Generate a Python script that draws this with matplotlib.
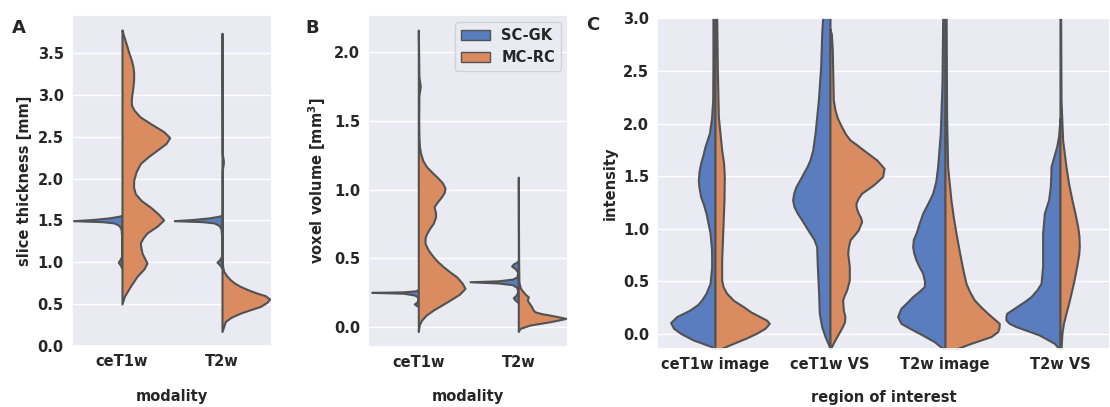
import matplotlib
matplotlib.use("Agg")
import matplotlib.pyplot as plt
import matplotlib.patches as mpatches
import seaborn as sns

# ---- data: half-violin density profiles as (value, density) pairs ----
# left half = SC-GK, right half = MC-RC

hues = ["SC-GK", "MC-RC"]

# A: slice thickness [mm]
a_categories = ["ceT1w", "T2w"]
a_scgk_cet1w = [(0.93, 0.0), (0.97, 0.02), (1.0, 0.037), (1.03, 0.02), (1.07, 0.004), (1.30, 0.003),
                (1.40, 0.01), (1.44, 0.03), (1.47, 0.08), (1.485, 0.2), (1.497, 0.485), (1.51, 0.3),
                (1.53, 0.13), (1.55, 0.03), (1.56, 0.0)]
a_mcrc_cet1w = [(0.50, 0.0), (0.59, 0.023), (0.71, 0.083), (0.83, 0.15), (0.92, 0.22), (0.99, 0.25),
                (1.06, 0.22), (1.11, 0.2), (1.17, 0.19), (1.23, 0.183), (1.29, 0.21), (1.35, 0.25),
                (1.43, 0.35), (1.505, 0.417), (1.58, 0.36), (1.66, 0.283), (1.74, 0.19), (1.82, 0.133),
                (1.90, 0.115), (1.98, 0.117), (2.08, 0.14), (2.18, 0.183), (2.26, 0.26), (2.34, 0.35),
                (2.42, 0.44), (2.49, 0.477), (2.56, 0.42), (2.66, 0.283), (2.74, 0.18), (2.82, 0.12),
                (2.88, 0.095), (2.94, 0.093), (3.0, 0.098), (3.08, 0.108), (3.18, 0.116), (3.26, 0.117),
                (3.34, 0.11), (3.42, 0.093), (3.50, 0.07), (3.58, 0.05), (3.65, 0.032), (3.72, 0.014),
                (3.78, 0.0)]
a_scgk_t2w = [(0.93, 0.0), (0.97, 0.025), (1.0, 0.05), (1.03, 0.025), (1.07, 0.004), (1.30, 0.003),
              (1.40, 0.01), (1.44, 0.03), (1.47, 0.08), (1.485, 0.2), (1.497, 0.477), (1.51, 0.3),
              (1.53, 0.13), (1.55, 0.03), (1.565, 0.0)]
a_mcrc_t2w = [(0.17, 0.0), (0.29, 0.033), (0.34, 0.09), (0.39, 0.183), (0.43, 0.28), (0.47, 0.383),
              (0.52, 0.45), (0.56, 0.477), (0.60, 0.43), (0.63, 0.35), (0.67, 0.26), (0.71, 0.183),
              (0.75, 0.125), (0.79, 0.083), (0.84, 0.045), (0.89, 0.017), (0.95, 0.006), (1.10, 0.003),
              (2.10, 0.003), (2.20, 0.015), (2.30, 0.003), (3.74, 0.0)]

# B: voxel volume [mm^3]
b_categories = ["ceT1w", "T2w"]
b_scgk_cet1w = [(0.15, 0.0), (0.17, 0.04), (0.19, 0.005), (0.22, 0.004), (0.235, 0.04), (0.248, 0.15),
                (0.254, 0.466), (0.258, 0.15), (0.265, 0.03), (0.275, 0.0)]
b_mcrc_cet1w = [(-0.03, 0.0), (0.02, 0.01), (0.053, 0.033), (0.09, 0.08), (0.126, 0.15), (0.16, 0.23),
                (0.198, 0.317), (0.24, 0.41), (0.283, 0.467), (0.32, 0.44), (0.367, 0.383), (0.40, 0.32),
                (0.44, 0.25), (0.48, 0.19), (0.512, 0.15), (0.56, 0.1), (0.61, 0.067), (0.65, 0.068),
                (0.68, 0.083), (0.72, 0.115), (0.755, 0.15), (0.80, 0.172), (0.83, 0.173), (0.875, 0.157),
                (0.91, 0.19), (0.948, 0.233), (0.98, 0.26), (1.01, 0.267), (1.05, 0.24), (1.093, 0.183),
                (1.13, 0.13), (1.165, 0.083), (1.21, 0.045), (1.263, 0.023), (1.31, 0.012), (1.36, 0.007),
                (1.50, 0.004), (1.68, 0.006), (1.75, 0.02), (1.82, 0.006), (2.0, 0.003), (2.157, 0.0)]
b_scgk_t2w = [(0.18, 0.0), (0.20, 0.035), (0.215, 0.05), (0.235, 0.02), (0.26, 0.006), (0.29, 0.015),
              (0.31, 0.06), (0.322, 0.2), (0.331, 0.483), (0.338, 0.2), (0.35, 0.06), (0.365, 0.015),
              (0.40, 0.005), (0.425, 0.03), (0.445, 0.067), (0.46, 0.05), (0.475, 0.01), (0.485, 0.0)]
b_mcrc_t2w = [(-0.03, 0.0), (-0.007, 0.017), (0.017, 0.117), (0.041, 0.317), (0.065, 0.477), (0.077, 0.4),
              (0.089, 0.317), (0.10, 0.23), (0.113, 0.167), (0.13, 0.145), (0.15, 0.133), (0.17, 0.115),
              (0.185, 0.1), (0.198, 0.09), (0.222, 0.1), (0.24, 0.07), (0.258, 0.05), (0.275, 0.03),
              (0.294, 0.017), (0.33, 0.006), (0.50, 0.003), (1.09, 0.0)]

# C: intensity
c_categories = ["ceT1w image", "ceT1w VS", "T2w image", "T2w VS"]
c_scgk_cet1w_img = [(-0.18, 0.0), (-0.12, 0.03), (-0.057, 0.19), (0.006, 0.30), (0.054, 0.36), (0.108, 0.386),
                    (0.165, 0.333), (0.228, 0.217), (0.28, 0.15), (0.323, 0.116), (0.387, 0.078), (0.48, 0.043),
                    (0.64, 0.029), (0.80, 0.03), (0.957, 0.043), (1.05, 0.06), (1.147, 0.078), (1.23, 0.10),
                    (1.305, 0.125), (1.40, 0.14), (1.464, 0.145), (1.55, 0.138), (1.622, 0.125), (1.70, 0.105),
                    (1.78, 0.087), (1.907, 0.049), (2.05, 0.03), (2.224, 0.02), (2.6, 0.018), (3.0, 0.018),
                    (3.2, 0.015)]
c_mcrc_cet1w_img = [(-0.20, 0.0), (-0.143, 0.043), (-0.089, 0.16), (-0.04, 0.27), (0.006, 0.36), (0.054, 0.435),
                    (0.101, 0.472), (0.13, 0.45), (0.165, 0.39), (0.21, 0.31), (0.26, 0.246), (0.32, 0.16),
                    (0.387, 0.101), (0.45, 0.07), (0.513, 0.058), (0.70, 0.058), (0.957, 0.067), (1.27, 0.078),
                    (1.496, 0.081), (1.62, 0.075), (1.75, 0.058), (2.066, 0.029), (2.54, 0.02), (3.0, 0.015),
                    (3.2, 0.012)]
c_scgk_cet1w_vs = [(-0.13, 0.0), (-0.12, 0.006), (-0.07, 0.025), (-0.025, 0.043), (0.07, 0.072), (0.196, 0.093),
                   (0.387, 0.099), (0.64, 0.11), (0.83, 0.116), (0.90, 0.14), (0.957, 0.174), (1.02, 0.21),
                   (1.084, 0.246), (1.15, 0.285), (1.21, 0.313), (1.274, 0.325), (1.34, 0.315), (1.40, 0.296),
                   (1.46, 0.265), (1.527, 0.232), (1.59, 0.2), (1.654, 0.174), (1.75, 0.15), (1.907, 0.13),
                   (2.224, 0.101), (2.54, 0.081), (2.858, 0.072), (3.0, 0.064), (3.2, 0.06)]
c_mcrc_cet1w_vs = [(-0.15, 0.0), (-0.136, 0.006), (-0.057, 0.043), (0.054, 0.10), (0.11, 0.125), (0.165, 0.13),
                   (0.228, 0.116), (0.323, 0.11), (0.37, 0.125), (0.418, 0.145), (0.513, 0.168), (0.64, 0.168),
                   (0.767, 0.154), (0.83, 0.16), (0.894, 0.174), (0.94, 0.21), (0.989, 0.246), (1.068, 0.275),
                   (1.11, 0.265), (1.147, 0.246), (1.20, 0.228), (1.242, 0.226), (1.29, 0.245), (1.337, 0.275),
                   (1.416, 0.377), (1.496, 0.458), (1.575, 0.47), (1.654, 0.406), (1.70, 0.35), (1.749, 0.29),
                   (1.80, 0.23), (1.844, 0.174), (1.90, 0.135), (1.971, 0.10), (2.05, 0.065), (2.13, 0.043),
                   (2.224, 0.029), (2.54, 0.023), (2.70, 0.02), (2.85, 0.012), (2.9, 0.0)]
c_scgk_t2w_img = [(-0.20, 0.0), (-0.143, 0.014), (-0.073, 0.093), (0.006, 0.223), (0.05, 0.30), (0.101, 0.383),
                  (0.165, 0.412), (0.20, 0.40), (0.244, 0.383), (0.30, 0.33), (0.355, 0.281), (0.40, 0.23),
                  (0.45, 0.18), (0.50, 0.178), (0.577, 0.194), (0.64, 0.225), (0.703, 0.252), (0.77, 0.272),
                  (0.83, 0.281), (0.90, 0.275), (0.957, 0.252), (1.05, 0.225), (1.147, 0.194), (1.24, 0.15),
                  (1.337, 0.107), (1.45, 0.08), (1.59, 0.064), (1.907, 0.041), (2.383, 0.026), (3.0, 0.02),
                  (3.2, 0.018)]
c_mcrc_t2w_img = [(-0.20, 0.0), (-0.143, 0.096), (-0.089, 0.226), (-0.025, 0.40), (0.022, 0.458), (0.06, 0.47),
                  (0.101, 0.472), (0.15, 0.42), (0.196, 0.371), (0.26, 0.31), (0.323, 0.255), (0.40, 0.215),
                  (0.48, 0.183), (0.60, 0.158), (0.703, 0.139), (0.83, 0.117), (0.957, 0.096), (1.10, 0.074),
                  (1.27, 0.052), (1.59, 0.023), (2.07, 0.014), (3.0, 0.01), (3.2, 0.01)]
c_scgk_t2w_vs = [(-0.15, 0.0), (-0.143, 0.006), (-0.089, 0.049), (-0.01, 0.18), (0.03, 0.28), (0.07, 0.383),
                 (0.10, 0.44), (0.133, 0.47), (0.165, 0.47), (0.196, 0.464), (0.235, 0.41), (0.276, 0.354),
                 (0.315, 0.30), (0.355, 0.252), (0.42, 0.2), (0.48, 0.165), (0.64, 0.151), (0.957, 0.151),
                 (1.147, 0.136), (1.22, 0.115), (1.274, 0.099), (1.40, 0.084), (1.50, 0.08), (1.59, 0.078),
                 (1.68, 0.055), (1.78, 0.029), (1.88, 0.012), (1.97, 0.006), (2.05, 0.0)]
c_mcrc_t2w_vs = [(-0.20, 0.0), (-0.143, 0.009), (0.006, 0.017), (0.10, 0.03), (0.196, 0.052), (0.29, 0.075),
                 (0.387, 0.096), (0.50, 0.12), (0.64, 0.145), (0.75, 0.162), (0.83, 0.168), (0.93, 0.165),
                 (1.02, 0.154), (1.15, 0.13), (1.274, 0.104), (1.43, 0.075), (1.59, 0.052), (1.844, 0.023),
                 (2.224, 0.009), (3.0, 0.006), (3.2, 0.006)]

# ---- style ----
sns.set_theme(style="darkgrid")
plt.rcParams["font.family"] = ["DejaVu Sans"]
plt.rcParams["font.weight"] = "bold"
plt.rcParams["axes.labelweight"] = "bold"

colors = ["#597dbf", "#da8b5f"]
edge = "#525252"
FS = 10.5


def half_violin(ax, pos, profile, side, color):
    ys = [p[0] for p in profile]
    ds = [p[1] for p in profile]
    if side == "left":
        x1 = [pos - d for d in ds]
        x2 = [pos] * len(ds)
    else:
        x1 = [pos] * len(ds)
        x2 = [pos + d for d in ds]
    ax.fill_betweenx(ys, x1, x2, facecolor=color, edgecolor=edge, linewidth=1.5, zorder=2)


def panel(ax, cats, violins, ylim, yticks, xlabel, ylabel, xpad):
    for i, (left, right) in enumerate(violins):
        half_violin(ax, i, left, "left", colors[0])
        half_violin(ax, i, right, "right", colors[1])
    ax.set_xticks(range(len(cats)))
    ax.set_xticklabels(cats, fontsize=FS, fontweight="bold")
    ax.set_yticks(yticks)
    ax.set_yticklabels([f"{t:.1f}" for t in yticks], fontsize=FS, fontweight="bold")
    ax.set_ylim(*ylim)
    ax.set_xlabel(xlabel, fontsize=FS, fontweight="bold", labelpad=xpad)
    ax.set_ylabel(ylabel, fontsize=FS, fontweight="bold")
    ax.tick_params(axis="both", length=0, pad=6)
    ax.xaxis.grid(False)


fig = plt.figure(figsize=(11.1, 4.07), dpi=100)

axA = fig.add_axes([72 / 1110, 61 / 407, 200 / 1110, 331 / 407])
panel(axA, a_categories, [(a_scgk_cet1w, a_mcrc_cet1w), (a_scgk_t2w, a_mcrc_t2w)],
      (-0.003, 3.958), [0.0, 0.5, 1.0, 1.5, 2.0, 2.5, 3.0, 3.5], "modality", "slice thickness [mm]", 14)
axA.set_xlim(-0.5, 1.5)

axB = fig.add_axes([368.3 / 1110, 60.3 / 407, 200 / 1110, 331.7 / 407])
panel(axB, b_categories, [(b_scgk_cet1w, b_mcrc_cet1w), (b_scgk_t2w, b_mcrc_t2w)],
      (-0.14, 2.266), [0.0, 0.5, 1.0, 1.5, 2.0], "modality", r"voxel volume [mm$^3$]", 14)
axB.set_xlim(-0.5, 1.5)
handles = [mpatches.Patch(facecolor=colors[k], edgecolor=edge, linewidth=1.0, label=hues[k]) for k in range(2)]
leg = axB.legend(handles=handles, loc="upper right", prop={"weight": "bold", "size": FS})

axC = fig.add_axes([657.5 / 1110, 58 / 407, 452.5 / 1110, 330.7 / 407])
panel(axC, c_categories,
      [(c_scgk_cet1w_img, c_mcrc_cet1w_img), (c_scgk_cet1w_vs, c_mcrc_cet1w_vs),
       (c_scgk_t2w_img, c_mcrc_t2w_img), (c_scgk_t2w_vs, c_mcrc_t2w_vs)],
      (-0.143, 3.0), [0.0, 0.5, 1.0, 1.5, 2.0, 2.5, 3.0], "region of interest", "intensity", 13)
axC.set_xlim(-0.5, 3.935 - 0.5)

for lbl, x, y in [("A", 12, 33), ("B", 305, 33), ("C", 586, 30)]:
    fig.text(x / 1110, 1 - y / 407, lbl, fontsize=13, fontweight="bold", ha="left", va="baseline")

fig.savefig("out.png", dpi=100)
